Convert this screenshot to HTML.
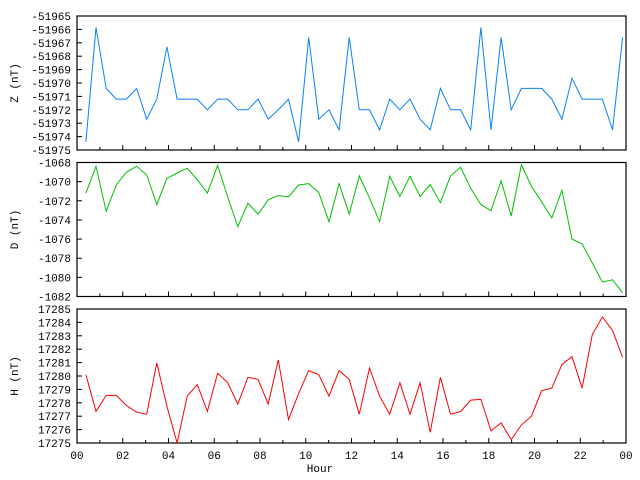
<!DOCTYPE html>
<html><head><meta charset="utf-8">
<style>
html,body{margin:0;padding:0;background:#fff;}
svg{display:block;}
text{font-family:"Liberation Mono",monospace;font-size:11px;fill:#000;}
</style></head>
<body>
<svg id="chart" width="640" height="480" viewBox="0 0 640 480" xmlns="http://www.w3.org/2000/svg"></svg>
<script>
const zValues=[-51974.4,-51965.85,-51970.4,-51971.2,-51971.2,-51970.4,-51972.7,-51971.2,-51967.3,-51971.2,-51971.2,-51971.2,-51972,-51971.2,-51971.2,-51972,-51972,-51971.2,-51972.7,-51972,-51971.2,-51974.4,-51966.6,-51972.7,-51972,-51973.5,-51966.6,-51972,-51972,-51973.5,-51971.2,-51972,-51971.2,-51972.7,-51973.5,-51970.4,-51972,-51972,-51973.5,-51965.85,-51973.5,-51966.6,-51972,-51970.4,-51970.4,-51970.4,-51971.2,-51972.7,-51969.65,-51971.2,-51971.2,-51971.2,-51973.5,-51966.6];
const dValues=[-1071.2,-1068.4,-1073.1,-1070.35,-1069.0,-1068.4,-1069.3,-1072.4,-1069.65,-1069.1,-1068.6,-1069.8,-1071.2,-1068.3,-1071.6,-1074.7,-1072.25,-1073.4,-1071.9,-1071.45,-1071.6,-1070.35,-1070.2,-1071.15,-1074.2,-1070.2,-1073.4,-1069.4,-1071.7,-1074.2,-1069.45,-1071.55,-1069.45,-1071.55,-1070.3,-1072.2,-1069.4,-1068.5,-1070.7,-1072.4,-1073.05,-1069.9,-1073.6,-1068.25,-1070.5,-1072.1,-1073.8,-1070.9,-1076.0,-1076.5,-1078.5,-1080.5,-1080.25,-1081.6];
const hValues=[17280.1,17277.36,17278.55,17278.55,17277.8,17277.3,17277.15,17280.97,17277.75,17275.0,17278.5,17279.35,17277.36,17280.2,17279.5,17277.9,17279.9,17279.75,17277.9,17281.2,17276.75,17278.7,17280.4,17280.1,17278.5,17280.4,17279.75,17277.15,17280.6,17278.5,17277.15,17279.5,17277.15,17279.5,17275.8,17279.9,17277.15,17277.35,17278.2,17278.25,17275.9,17276.5,17275.25,17276.35,17277.0,17278.9,17279.1,17280.85,17281.45,17279.1,17283.1,17284.4,17283.4,17281.4];
const startHour=0.39, stepHour=0.4427;
const xTickLabels=["00","02","04","06","08","10","12","14","16","18","20","22","00"];
const zTicks=[-51965,-51966,-51967,-51968,-51969,-51970,-51971,-51972,-51973,-51974,-51975];
const dTicks=[-1068,-1070,-1072,-1074,-1076,-1078,-1080,-1082];
const hTicks=[17285,17284,17283,17282,17281,17280,17279,17278,17277,17276,17275];

const NS="http://www.w3.org/2000/svg";
const svg=document.getElementById('chart');
const X0=77,X1=626;
function xScale(h){return X0+(h/24)*(X1-X0);}
function mk(tag,attrs,parent){const e=document.createElementNS(NS,tag);for(const k in attrs)e.setAttribute(k,attrs[k]);(parent||svg).appendChild(e);return e;}

const panels=[
 {name:'z',title:'Z (nT)',vals:zValues,ticks:zTicks,min:-51975,max:-51965,top:16,bot:150,color:'#0a80ff'},
 {name:'d',title:'D (nT)',vals:dValues,ticks:dTicks,min:-1082,max:-1068,top:162.5,bot:296.5,color:'#00c000'},
 {name:'h',title:'H (nT)',vals:hValues,ticks:hTicks,min:17275,max:17285,top:309,bot:443,color:'#ff0000'}
];
panels.forEach((p,pi)=>{
  const g=mk('g',{});
  
  
  const yS=v=>p.bot-(v-p.min)/(p.max-p.min)*(p.bot-p.top);
  const frame=mk('rect',{x:X0,y:p.top,width:X1-X0,height:p.bot-p.top,fill:'none',stroke:'#000','stroke-width':1.2},g);
  
  
  p.ticks.forEach(t=>{
    const y=yS(t);
    const tk=mk('line',{x1:X0,x2:X0+5,y1:y,y2:y,stroke:'#000'},g);
    
    
    const lb=mk('text',{x:71,y:y+4,'text-anchor':'end'},g);
    lb.textContent=String(t);
    
    
  });
  const cy=(p.top+p.bot)/2;
  const tt=mk('text',{x:0,y:0,'text-anchor':'middle',transform:'translate(18,'+cy+') rotate(-90)'},g);
  tt.textContent=p.title;
  
  
  for(let hr=1;hr<24;hr++){
    const x=xScale(hr);
    const len=hr%2===0?5:3;
    const tk=mk('line',{x1:x,x2:x,y1:p.bot,y2:p.bot-len,stroke:'#000'},g);
    
    
  }
  const pts=p.vals.map((v,i)=>xScale(startHour+i*stepHour).toFixed(1)+','+yS(v).toFixed(1)).join(' ');
  const line=mk('polyline',{points:pts,fill:'none',stroke:p.color,'stroke-width':1},g);
  
  
});
xTickLabels.forEach((l,i)=>{
  const t=mk('text',{x:xScale(i*2),y:459,'text-anchor':'middle'});
  t.textContent=l;
  
  
});
const xt=mk('text',{x:320,y:472,'text-anchor':'middle'});
xt.textContent='Hour';


</script>
</body></html>
